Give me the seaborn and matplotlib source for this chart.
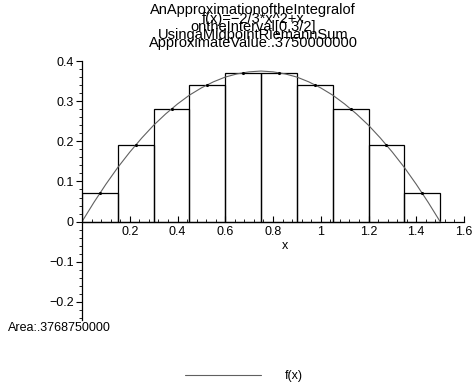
import numpy as np
import pandas as pd
import matplotlib
matplotlib.use("Agg")
import matplotlib.pyplot as plt
import seaborn as sns
from matplotlib.ticker import MultipleLocator

# midpoint Riemann sum, 10 subintervals on [0, 3/2]
midpoints = [0.075, 0.225, 0.375, 0.525, 0.675, 0.825, 0.975, 1.125, 1.275, 1.425]
heights = [0.071, 0.191, 0.281, 0.341, 0.371, 0.371, 0.341, 0.281, 0.191, 0.071]

# curve f(x)
curve_x = [0.0, 0.05, 0.1, 0.15, 0.2, 0.25, 0.3, 0.35, 0.4, 0.45, 0.5, 0.55, 0.6, 0.65, 0.7, 0.75,
           0.8, 0.85, 0.9, 0.95, 1.0, 1.05, 1.1, 1.15, 1.2, 1.25, 1.3, 1.35, 1.4, 1.45, 1.5]
curve_y = [0.0, 0.048, 0.093, 0.135, 0.173, 0.208, 0.24, 0.268, 0.293, 0.315, 0.333, 0.348, 0.36, 0.368, 0.373, 0.375,
           0.373, 0.368, 0.36, 0.348, 0.333, 0.315, 0.293, 0.268, 0.24, 0.208, 0.173, 0.135, 0.093, 0.048, 0.0]

title_lines = ["AnApproximationoftheIntegralof",
               "f(x)=\u22122/3*x^2+x",
               "ontheInterval[0,3/2]",
               "UsingaMidpointRiemannSum",
               "ApproximateValue:.3750000000"]
area_text = "Area:.3768750000"

sns.set_style("white")
plt.rcParams['font.family'] = ['Liberation Sans', 'DejaVu Sans']
plt.rcParams['text.color'] = 'black'
plt.rcParams['xtick.color'] = 'black'
plt.rcParams['ytick.color'] = 'black'

W, H = 473, 385
fig = plt.figure(figsize=(W / 100, H / 100), dpi=100)
ax = fig.add_axes([82 / W, 65 / H, 382 / W, 259 / H])

bars = pd.DataFrame({'x': midpoints, 'h': heights})
sns.barplot(data=bars, x='x', y='h', native_scale=True, width=1.0, fill=False,
            color='black', linewidth=0.9, ax=ax)
sns.lineplot(x=curve_x, y=curve_y, color='#606060', linewidth=0.8, ax=ax)
curve_line = ax.get_lines()[-1]
sns.scatterplot(x=midpoints, y=heights, color='black', s=5, linewidth=0, ax=ax, zorder=5)

ax.set_xlim(0, 1.6)
ax.set_ylim(-0.245, 0.4)
ax.set_xlabel('')
ax.set_ylabel('')
for s in ['top', 'right']:
    ax.spines[s].set_visible(False)
ax.spines['left'].set_position('zero')
ax.spines['bottom'].set_position('zero')
for s in ['left', 'bottom']:
    ax.spines[s].set_linewidth(0.9)
    ax.spines[s].set_color('black')

ax.set_xticks([0.2, 0.4, 0.6, 0.8, 1.0, 1.2, 1.4, 1.6])
ax.set_xticklabels(['0.2', '0.4', '0.6', '0.8', '1', '1.2', '1.4', '1.6'])
ax.set_yticks([-0.2, -0.1, 0, 0.1, 0.2, 0.3, 0.4])
ax.set_yticklabels(['\u22120.2', '\u22120.1', '0', '0.1', '0.2', '0.3', '0.4'])
ax.xaxis.set_minor_locator(MultipleLocator(0.04))
ax.yaxis.set_minor_locator(MultipleLocator(0.02))
ax.tick_params(axis='x', which='both', direction='in', bottom=True, labelsize=9, pad=3)
ax.tick_params(axis='x', which='major', length=4, width=0.8)
ax.tick_params(axis='x', which='minor', length=2, width=0.6)
ax.tick_params(axis='y', which='both', direction='out', left=True, labelsize=9, pad=2)
ax.tick_params(axis='y', which='major', length=4, width=0.8)
ax.tick_params(axis='y', which='minor', length=2, width=0.6)
ax.text(0.85, -0.06, 'x', ha='center', va='center', fontsize=9)

# title lines sit tightly stacked as in the original
title_y = [10, 19, 27, 35, 43]
for txt, yy in zip(title_lines, title_y):
    fig.text(253 / W, 1 - yy / H, txt, ha='center', va='center', fontsize=10.5)

fig.text(8 / W, 1 - 328 / H, area_text, ha='left', va='center', fontsize=9)

fig.legend(handles=[curve_line], labels=['f(x)'], loc='center left',
           bbox_to_anchor=(185 / W, 1 - 376 / H), frameon=False, fontsize=9,
           handlelength=6.1, handletextpad=1.85, borderpad=0, borderaxespad=0)

fig.savefig('out.png', dpi=100)
